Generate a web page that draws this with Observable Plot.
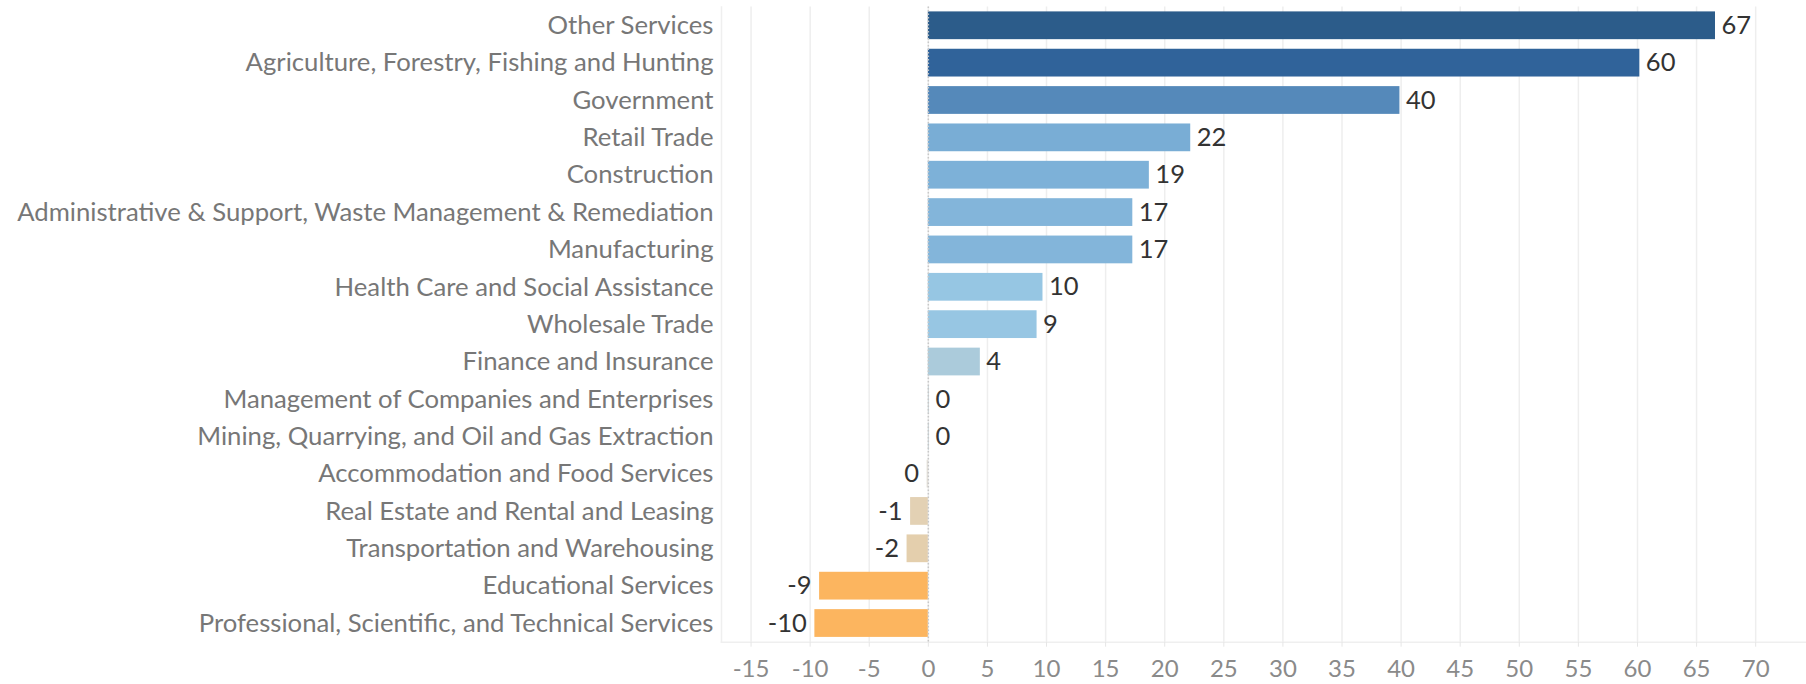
<!DOCTYPE html>
<html>
<head>
<meta charset="utf-8">
<script src="https://cdn.jsdelivr.net/npm/d3@7"></script>
<script src="https://cdn.jsdelivr.net/npm/@observablehq/plot@0.6"></script>
<style>
  html, body { margin: 0; padding: 0; background: #fff; }
  #chart svg { display: block; }
</style>
</head>
<body>
<div id="chart"></div>
<script>
const categories = [
  "Other Services",
  "Agriculture, Forestry, Fishing and Hunting",
  "Government",
  "Retail Trade",
  "Construction",
  "Administrative & Support, Waste Management & Remediation",
  "Manufacturing",
  "Health Care and Social Assistance",
  "Wholesale Trade",
  "Finance and Insurance",
  "Management of Companies and Enterprises",
  "Mining, Quarrying, and Oil and Gas Extraction",
  "Accommodation and Food Services",
  "Real Estate and Rental and Leasing",
  "Transportation and Warehousing",
  "Educational Services",
  "Professional, Scientific, and Technical Services"
];
const values = [66.6, 60.2, 39.9, 22.2, 18.7, 17.3, 17.3, 9.7, 9.2, 4.4, 0.1, 0.1, -0.1, -1.5, -1.8, -9.2, -9.6];
const xTicks = [-15, -10, -5, 0, 5, 10, 15, 20, 25, 30, 35, 40, 45, 50, 55, 60, 65, 70];

const data = categories.map((c, i) => ({category: c, value: values[i], label: String(Math.round(values[i]) || 0)}));

const font = "Lato, 'Open Sans', sans-serif";

const chart = Plot.plot({
  width: 1806,
  height: 684,
  marginLeft: 721,
  marginRight: 0,
  marginTop: 6.6,
  marginBottom: 42.3,
  style: {fontFamily: font, background: "#fff"},
  x: {domain: [-17.5, 74.3], label: null},
  y: {domain: categories, padding: 0, round: false, label: null},
  color: {
    type: "linear",
    domain: [-9.6, -9.2, -1.8, -0.1, 0.1, 4.4, 9.5, 17.3, 18.7, 22.2, 39.9, 60.2, 66.6],
    range: ["#fcb55f", "#fcb55f", "#e4cfad", "#e0dcd4", "#cfd8dc", "#abcbdb", "#96c6e3", "#83b5da", "#7db1d8", "#79add5", "#5589ba", "#30639a", "#2c5c8a"],
    interpolate: "rgb"
  },
  marks: [
    Plot.ruleX(xTicks, {stroke: "#eeeeee", strokeWidth: 1.5}),
    Plot.frame({anchor: "left", stroke: "#efefef", strokeWidth: 1.5}),
    Plot.frame({anchor: "bottom", stroke: "#efefef", strokeWidth: 1.5}),
    Plot.axisX({
      ticks: xTicks,
      tickFormat: d => String(d),
      tickSize: 5,
      tickPadding: 13,
      stroke: "#e6e6e6",
      color: "#8a8a8a",
      fontSize: 24,
      fontFamily: font,
      label: null
    }),
    Plot.axisY({
      tickSize: 0,
      tickPadding: 8,
      color: "#777777",
      fontSize: 25.7,
      fontFamily: font,
      label: null
    }),
    Plot.barX(data, {
      x: "value",
      y: "category",
      fill: "value",
      insetTop: 4.8,
      insetBottom: 4.8
    }),
    Plot.ruleX([0], {stroke: "#c8c8c8", strokeDasharray: "1.5,2", strokeWidth: 1.5}),
    Plot.text(data.filter(d => d.value >= 0), {
      x: "value",
      y: "category",
      text: "label",
      textAnchor: "start",
      dx: 6,
      fill: "#333333",
      fontSize: 25.5,
      fontFamily: font
    }),
    Plot.text(data.filter(d => d.value < 0), {
      x: "value",
      y: "category",
      text: "label",
      textAnchor: "end",
      dx: -8,
      fill: "#333333",
      fontSize: 25.5,
      fontFamily: font
    })
  ]
});

document.getElementById("chart").appendChild(chart);
</script>
</body>
</html>
